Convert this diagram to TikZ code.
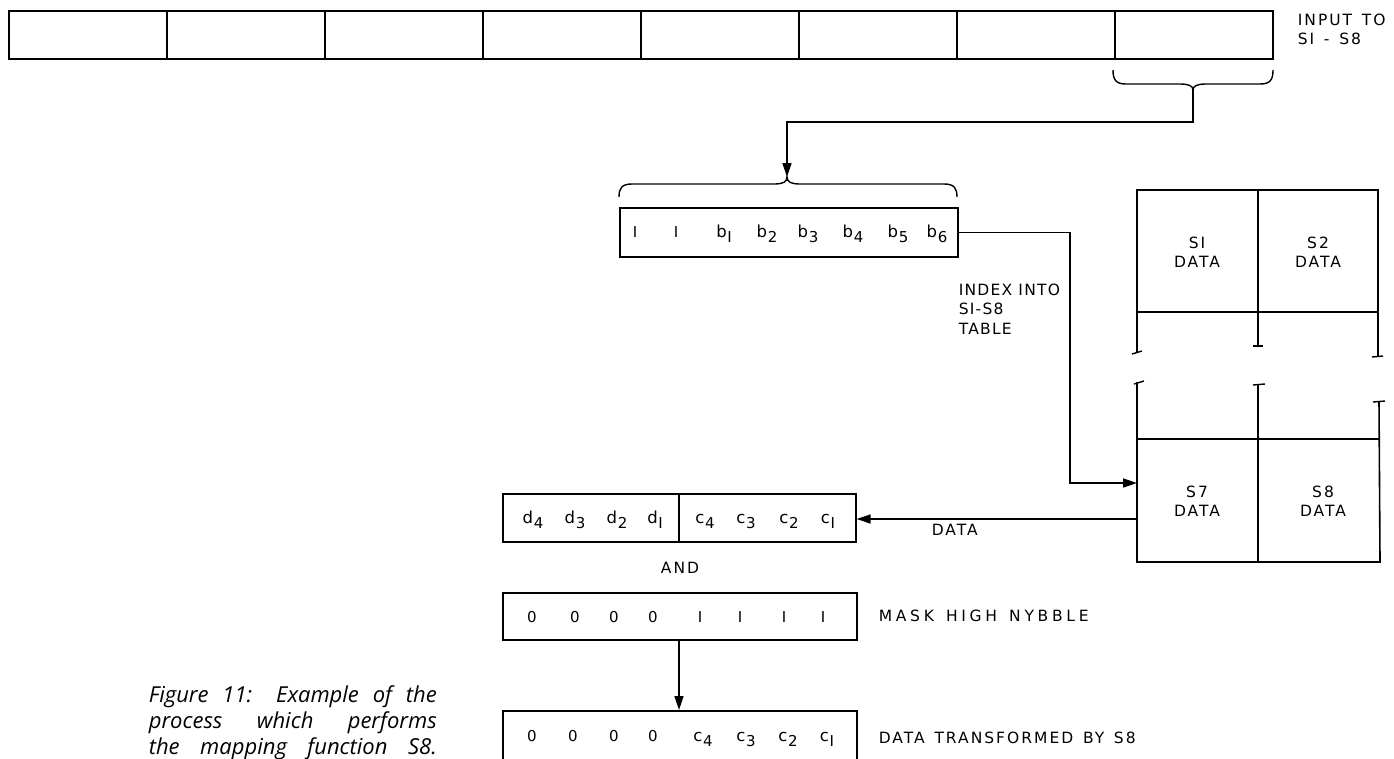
\documentclass[tikz,border=0pt]{standalone}
\usepackage{fontspec}
\setmainfont{DejaVu Sans}
\newfontfamily\lbl[LetterSpace=13,WordSpace=1.4]{DejaVu Sans}
\newfontfamily\lblw[LetterSpace=24,WordSpace=1.4]{DejaVu Sans}
\newfontfamily\lbln[LetterSpace=8]{DejaVu Sans}
\newfontfamily\capfont{Open Sans}
\usetikzlibrary{arrows.meta}
\newcommand{\bsub}[2]{{\fontsize{16.5}{16}\selectfont #1}\kern0.6pt\raisebox{-5pt}{\fontsize{15}{15}\selectfont #2}}
\begin{document}
\begin{tikzpicture}[x=1pt,y=-1pt,line width=1.6pt,
  lab/.style={font=\lbl\fontsize{15.5}{19.5}\selectfont,inner sep=0pt},
  labw/.style={font=\lblw\fontsize{15.5}{19.5}\selectfont,inner sep=0pt},
  labn/.style={font=\lbln\fontsize{15.5}{19.5}\selectfont,inner sep=0pt},
  bit/.style={font=\fontsize{15}{15}\selectfont,inner sep=0pt,anchor=base},
  box/.style={draw,inner sep=0pt,anchor=north west},
  arr/.style={-{Triangle[length=14pt,width=9pt]}},
  brace/.style={line width=1.4pt},
  tick/.style={line width=1.4pt},
  captext/.style={anchor=base west,inner sep=0pt,font=\capfont\itshape\fontsize{22}{26}\selectfont}]
\useasboundingbox (0,0) rectangle (1394,758);
\fill[white] (0,0) rectangle (1394,758);

% top register
\foreach \i in {0,...,7}
  \node[box,minimum width=158pt,minimum height=48pt] (t\i) at ({8+158*\i},10) {};
\node[lab,anchor=north west,align=left] (inlab) at (1297,13) {INPUT TO\\SI - S8};

% brace under last cell (tip down)
\draw[brace] (1113,70) .. controls (1113,80) and (1116,84) .. (1126,84) -- (1180,84)
  .. controls (1189,84) and (1193,86) .. (1193,90)
  .. controls (1193,86) and (1197,84) .. (1206,84) -- (1260,84)
  .. controls (1270,84) and (1273,80) .. (1273,70);
\coordinate (br1) at (1193,90);

% brace over index box (tip up)
\draw[brace] (619,197) .. controls (619,188) and (622,184) .. (632,184) -- (774,184)
  .. controls (783,184) and (787,182) .. (787,177)
  .. controls (787,182) and (791,184) .. (800,184) -- (944,184)
  .. controls (954,184) and (957,188) .. (957,197);
\coordinate (br2) at (787,177);

\draw[arr] (br1) -- ++(0,32) -| (br2);

% index box
\node[box,minimum width=338pt,minimum height=49pt] (idx) at (619,207) {};
\foreach \x/\t in {635/I,676/I,724/{\bsub{b}{I}},767/{\bsub{b}{2}},808/{\bsub{b}{3}},853/{\bsub{b}{4}},898/{\bsub{b}{5}},937/{\bsub{b}{6}}}
  \node[bit] at (\x,237) {\t};
\node[labn,anchor=north west,align=left] (idxlab) at (958,283) {INDEX INTO\\SI-S8\\TABLE};

% table
\coordinate (s7in) at (1137,483);
\coordinate (s7out) at (1137,519);
\coordinate (kink) at (1070,483);
\draw (1137,352) -- (1137,190) -- (1378,190) -- (1378,357);
\draw (1258,190) -- (1258,346);
\draw (1137,312) -- (1378,312);
\draw[tick] (1132,354) -- (1142,351);
\draw[tick] (1253,346) -- (1263,346);
\draw[tick] (1372,357) -- (1383,356);
\draw[tick] (1134,384) -- (1144,381);
\draw[tick] (1253,385) -- (1265,384);
\draw[tick] (1373,402) -- (1385,401);
\draw (1137,382) -- (1137,562) -- (1380,562) -- (1379,402);
\draw (1258,385) -- (1258,562);
\draw (1137,439) -- (1379,439);
\node[lab,align=center] (s1) at (1197,252) {SI\\DATA};
\node[lab,align=center] (s2) at (1318,252) {S2\\DATA};
\node[lab,align=center] (s7) at (1197,501) {S7\\DATA};
\node[lab,align=center] (s8) at (1323,501) {S8\\DATA};

\draw[arr] (idx.east) -| (kink) -- (s7in);

% data box
\node[box,minimum width=353pt,minimum height=48pt] (data) at (502,493) {};
\coordinate (dv) at (679,0);
\draw (data.north -| dv) -- (data.south -| dv);
\foreach \x/\t in {533/{\bsub{d}{4}},575/{\bsub{d}{3}},617/{\bsub{d}{2}},655/{\bsub{d}{I}},705/{\bsub{c}{4}},746/{\bsub{c}{3}},789/{\bsub{c}{2}},828/{\bsub{c}{I}}}
  \node[bit] at (\x,523) {\t};
\draw[arr] (s7out) -- (data.east |- s7out);
\node[lab,anchor=base west] (datalab) at (931,535) {DATA};
\node[lab,anchor=base] (andlab) at (680,573) {AND};

% mask box
\node[box,minimum width=354pt,minimum height=47pt] (mask) at (502,592) {};
\foreach \x/\t in {532/0,575/0,614/0,653/0,700/I,740/I,784/I,823/I}
  \node[bit] at (\x,622) {\t};
\node[labw,anchor=base west] (masklab) at (878,621) {MASK HIGH NYBBLE};

% transformed box
\node[box,minimum width=354pt,minimum height=60pt] (trans) at (502,710) {};
\foreach \x/\t in {532/0,573/0,614/0,653/0,703/{\bsub{c}{4}},746/{\bsub{c}{3}},788/{\bsub{c}{2}},827/{\bsub{c}{I}}}
  \node[bit] at (\x,741) {\t};
\node[lab,anchor=base west] (translab) at (878,743) {DATA TRANSFORMED BY S8};
\draw[arr] (mask.south -| dv) -- (trans.north -| dv);

% caption
\node[captext] (cap1) at (148,702) {\makebox[288pt][s]{Figure 11: Example of the}};
\node[captext] (cap2) at (148,728) {\makebox[288pt][s]{process which performs}};
\node[captext] (cap3) at (148,754) {\makebox[288pt][s]{the mapping function S8.}};
\end{tikzpicture}
\end{document}
